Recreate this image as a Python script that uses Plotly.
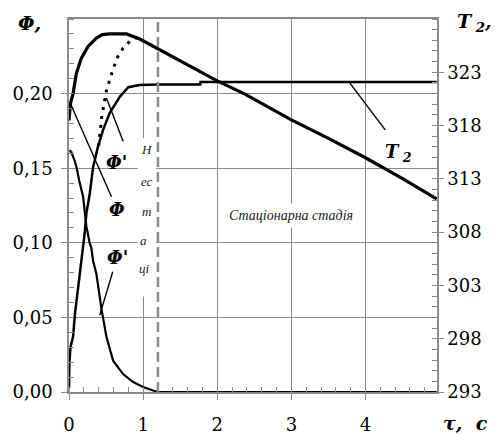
import plotly.graph_objects as go

# ---------------- data ----------------
# Φ (thick curve, left axis)
phi_x = [0.0, 0.02, 0.055, 0.10, 0.167, 0.257, 0.37, 0.45, 0.55, 0.775, 0.955,
         1.5, 2.0, 2.374, 3.0, 3.5, 4.0, 4.5, 4.96]
phi_y = [0.182, 0.1936, 0.200, 0.2137, 0.2238, 0.2316, 0.2372, 0.2395, 0.240,
         0.240, 0.2366, 0.222, 0.2085, 0.1997, 0.1824, 0.170, 0.157, 0.143, 0.1294]

# Φ' (upper, dotted, left axis)
dphi_up_x = [0.40, 0.44, 0.505, 0.55, 0.595, 0.66, 0.73, 0.82, 0.89, 0.94]
dphi_up_y = [0.165, 0.184, 0.202, 0.209, 0.2166, 0.2249, 0.2305, 0.235, 0.2372, 0.2372]

# Φ' (lower, left axis)
dphi_x = [0.005, 0.03, 0.077, 0.10, 0.145, 0.19, 0.21, 0.235, 0.28, 0.30, 0.325,
          0.37, 0.44, 0.505, 0.595, 0.73, 0.865, 1.0, 1.135, 1.2, 4.96]
dphi_y = [0.162, 0.161, 0.155, 0.151, 0.140, 0.131, 0.122, 0.111, 0.0996, 0.097,
          0.088, 0.079, 0.055, 0.037, 0.021, 0.012, 0.0067, 0.0034, 0.001, 0.0, 0.0]

# T2 (right axis, K)
t2_x = [0.0, 0.005, 0.02, 0.055, 0.08, 0.12, 0.17, 0.21, 0.235, 0.28, 0.325,
        0.39, 0.46, 0.55, 0.685, 0.80, 0.955, 1.2, 1.77, 1.775, 4.96]
t2_y = [293.3, 295.8, 297.2, 298.2, 300.3, 302.5, 305.2, 307.8, 309.8, 311.6,
        314.1, 316.0, 317.6, 319.2, 320.7, 321.6, 321.8, 321.85, 321.85, 322.1, 322.1]

x_ticks = [0, 1, 2, 3, 4]
y_ticks = [0.0, 0.05, 0.10, 0.15, 0.20]
y_tick_text = ["0,00", "0,05", "0,10", "0,15", "0,20"]
t_ticks = [293, 298, 303, 308, 313, 318, 323]

stage_boundary = 1.2
nonstat_parts = ["Н", "ес", "т", "а", "ці"]
nonstat_x = [1.046, 1.046, 1.046, 1.009, 1.023]
nonstat_y = [0.1623, 0.141, 0.1208, 0.1018, 0.0828]

# ---------------- styling ----------------
SERIF = "DejaVu Serif"
TIMES = "Liberation Serif"
GRID = "#8a8a8a"

fig = go.Figure()

common = dict(mode="lines", cliponaxis=False, showlegend=False, hoverinfo="skip")
fig.add_trace(go.Scatter(x=t2_x, y=t2_y, yaxis="y2",
                         line=dict(color="black", width=2.5), **common))
fig.add_trace(go.Scatter(x=dphi_x, y=dphi_y,
                         line=dict(color="black", width=2.2), **common))
fig.add_trace(go.Scatter(x=dphi_up_x, y=dphi_up_y,
                         line=dict(color="black", width=3, dash="3px,6px"), **common))
fig.add_trace(go.Scatter(x=phi_x, y=phi_y,
                         line=dict(color="black", width=3.2), **common))

shapes = []
# white box of the clipped "Нестаціонарна стадія" text frame
shapes.append(dict(type="rect", xref="x", yref="y", x0=0.928, x1=1.175, y0=0.064, y1=0.170,
                   fillcolor="white", line=dict(width=0), layer="above"))
# stage boundary
shapes.append(dict(type="line", xref="x", yref="paper", x0=stage_boundary, x1=stage_boundary,
                   y0=0, y1=1, line=dict(color="#8c8c8c", width=2.5, dash="10px,5px"),
                   layer="above"))
# leader lines
leaders = [
    ("y", 0.505, 0.197, 0.730, 0.168),
    ("y", 0.032, 0.1918, 0.573, 0.1309),
    ("y", 0.590, 0.0806, 0.415, 0.0515),
    ("y2", 3.79, 321.98, 4.266, 317.6),
]
for yr, xa, ya, xb, yb in leaders:
    shapes.append(dict(type="line", xref="x", yref=yr, x0=xa, y0=ya, x1=xb, y1=yb,
                       line=dict(color="black", width=1.4), layer="above"))

ann = []
lab_font = dict(family=SERIF, size=18, color="black")
ann.append(dict(x=0.645, y=0.1535, xref="x", yref="y", text="<b><i>Φ'</i></b>",
                showarrow=False, font=lab_font))
ann.append(dict(x=0.645, y=0.1225, xref="x", yref="y", text="<b><i>Φ</i></b>",
                showarrow=False, font=lab_font))
ann.append(dict(x=0.66, y=0.0900, xref="x", yref="y", text="<b><i>Φ'</i></b>",
                showarrow=False, font=lab_font))
ann.append(dict(x=4.45, y=315.4, xref="x", yref="y2",
                text="<b><i>T<sub> 2</sub></i></b>", showarrow=False, font=lab_font))
for t, xx, yy in zip(nonstat_parts, nonstat_x, nonstat_y):
    ann.append(dict(x=xx, y=yy, xref="x", yref="y", text="<i>" + t + "</i>",
                    showarrow=False, font=dict(family=TIMES, size=13, color="#222")))
ann.append(dict(x=3.0, y=0.118, xref="x", yref="y", text="<i>Стаціонарна стадія</i>",
                showarrow=False, bgcolor="white", borderpad=4,
                font=dict(family=TIMES, size=14, color="#222")))
# axis titles
ann.append(dict(x=-0.107, y=0.99, xref="paper", yref="paper", xanchor="center",
                yanchor="middle", text="<b><i>Φ,</i></b>",
                showarrow=False, font=dict(family=SERIF, size=19, color="black")))
ann.append(dict(x=1.048, y=0.99, xref="paper", yref="paper", xanchor="left",
                yanchor="middle", text="<b><i>T<sub> 2</sub>,</i></b>", showarrow=False,
                font=dict(family=SERIF, size=19, color="black")))
ann.append(dict(x=1.077, y=-0.084, xref="paper", yref="paper", xanchor="center",
                yanchor="middle", text="<b><i>τ,  с</i></b>", showarrow=False,
                font=dict(family=SERIF, size=19, color="black")))

tick_font = dict(family=SERIF, size=18, color="black")

fig.update_layout(
    width=495, height=435,
    margin=dict(l=69, r=58, t=19, b=43),
    paper_bgcolor="white", plot_bgcolor="white",
    shapes=shapes, annotations=ann,
    xaxis=dict(range=[0, 4.965], tickmode="array", tickvals=x_ticks, automargin=False,
               ticks="outside", ticklen=6, tickcolor=GRID, tickwidth=1,
               showgrid=True, gridcolor=GRID, gridwidth=1, zeroline=False,
               showline=True, linecolor=GRID, linewidth=1.5, mirror=True,
               tickfont=tick_font, ticklabelstandoff=10,
               minor=dict(tickmode="linear", tick0=0, dtick=0.2, ticks="inside",
                          ticklen=5, tickcolor=GRID, showgrid=False)),
    yaxis=dict(range=[0, 0.25], tickmode="array", tickvals=y_ticks, ticktext=y_tick_text,
               automargin=False,
               ticks="outside", ticklen=6, tickcolor=GRID, tickwidth=1,
               showgrid=True, gridcolor=GRID, gridwidth=1, zeroline=False,
               showline=True, linecolor=GRID, linewidth=1.5,
               tickfont=tick_font, ticklabelstandoff=5,
               minor=dict(tickmode="linear", tick0=0, dtick=0.01, ticks="inside",
                          ticklen=5, tickcolor=GRID, showgrid=False)),
    yaxis2=dict(range=[293, 328], overlaying="y", side="right", anchor="x",
                tickmode="array", tickvals=t_ticks, automargin=False,
                ticks="outside", ticklen=5, tickcolor=GRID, tickwidth=1,
                showgrid=False, zeroline=False,
                showline=True, linecolor=GRID, linewidth=1.5,
                tickfont=tick_font, ticklabelstandoff=0,
                minor=dict(tickmode="linear", tick0=293, dtick=1, ticks="inside",
                           ticklen=5, tickcolor=GRID, showgrid=False)),
)

fig.write_html("out.html", config={"displayModeBar": False},
               post_script="document.body.style.margin='0px';"
               "document.documentElement.style.overflow='hidden';")
